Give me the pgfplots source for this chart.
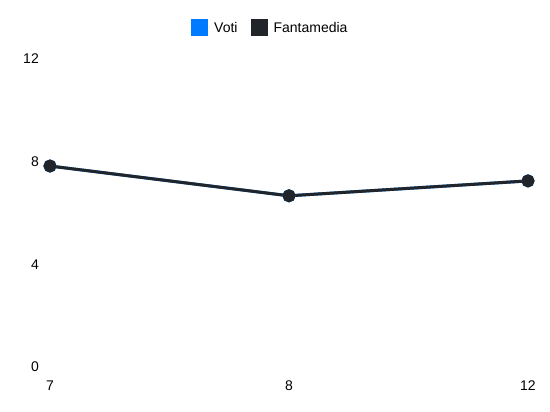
\documentclass[border=0pt]{standalone}
\usepackage{pgfplots}
\pgfplotsset{compat=1.18}
\usepackage{fontspec}
\setmainfont{Liberation Sans}
\definecolor{voti}{HTML}{007BFF}
\definecolor{fanta}{HTML}{212529}
\begin{document}
\begin{tikzpicture}
	\useasboundingbox (-50pt,-45pt) rectangle (500pt,367pt);
	\begin{axis}[
		at={(0pt,0pt)},
		anchor=origin,
		scale only axis,
		width=478pt,
		height=308pt,
		xmin=0, xmax=2,
		ymin=0, ymax=12,
		xtick={0,1,2},
		xticklabels={7,8,12},
		ytick={0,4,8,12},
		axis line style={draw=none},
		tick style={draw=none},
		clip=false,
		font=\fontsize{14}{16}\selectfont,
		/pgf/number format/assume math mode=true,
		x tick label style={anchor=north, inner sep=0pt, yshift=-14pt},
		y tick label style={anchor=east, inner sep=0pt, xshift=-11pt},
		legend style={at={(0.295,1.129)}, anchor=north west, draw=none, fill=none,
			inner sep=0pt, legend columns=-1,
			font=\fontsize{14}{16}\selectfont,
			nodes={inner sep=0pt},
			/tikz/every odd column/.append style={column sep=6pt},
			/tikz/every even column/.append style={column sep=13pt}},
		legend image code/.code={\fill[#1] (0pt,-7pt) rectangle (14pt,7pt);},
	]
	% Voti
	\addplot+[voti, line width=3pt, mark=*, mark size=5pt, mark options={fill=voti, draw=voti}] coordinates {
		(0,7.83) (1,6.67) (2,7.25)
	};
	% Fantamedia
	\addplot+[fanta, line width=3pt, mark=*, mark size=5pt, mark options={fill=fanta, draw=fanta}] coordinates {
		(0,7.83) (1,6.67) (2,7.25)
	};
	\legend{Voti, Fantamedia}
	\end{axis}
\end{tikzpicture}
\end{document}
